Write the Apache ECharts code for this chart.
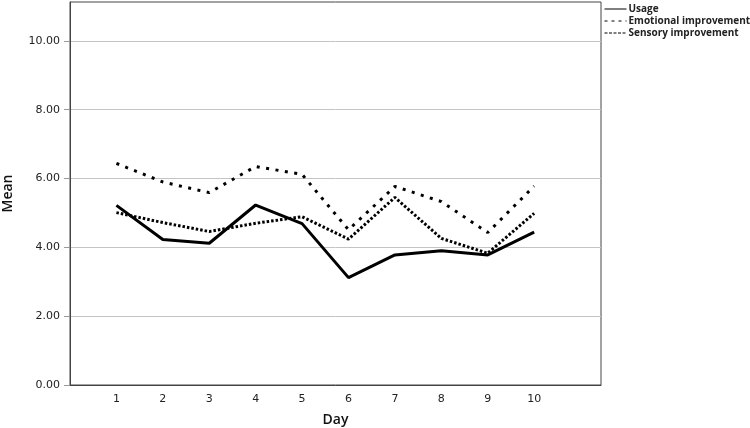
<!DOCTYPE html>
<html>
<head>
<meta charset="utf-8">
<script src="https://cdn.jsdelivr.net/npm/echarts@6/dist/echarts.min.js"></script>
<style>html,body{margin:0;padding:0;background:#fff;}#c{width:750px;height:428px;}</style>
</head>
<body>
<div id="c"></div>
<script>
var days = [1, 2, 3, 4, 5, 6, 7, 8, 9, 10];
var usage = [5.22, 4.23, 4.12, 5.23, 4.69, 3.12, 3.78, 3.90, 3.78, 4.44];
var emotional = [6.44, 5.90, 5.59, 6.35, 6.12, 4.51, 5.77, 5.33, 4.43, 5.78];
var sensory = [5.01, 4.72, 4.46, 4.70, 4.89, 4.24, 5.45, 4.26, 3.83, 4.99];
var seriesNames = ['Usage', 'Emotional improvement', 'Sensory improvement'];
var yTicks = [0, 2, 4, 6, 8, 10];

function pairs(vals) { return days.map(function (d, i) { return [d, vals[i]]; }); }

var hidden = { color: 'rgba(0,0,0,0)', borderWidth: 0, opacity: 0 };
var chart = echarts.init(document.getElementById('c'));
chart.setOption({
  animation: false,
  backgroundColor: '#fff',
  textStyle: { fontFamily: 'DejaVu Sans' },
  grid: { left: 70, right: 149, top: 2, bottom: 43, outerBoundsMode: 'none', containLabel: false, show: true, borderColor: '#444', borderWidth: 1, backgroundColor: 'transparent' },
  legend: {
    orient: 'vertical', left: 599, top: -1, itemGap: 2, itemWidth: 22, itemHeight: 10,
    textStyle: { fontSize: 10, color: '#222', fontWeight: 'bold', fontFamily: 'Open Sans', padding: [0, 0, 0, -3] },
    data: [
      { name: seriesNames[0], itemStyle: hidden, lineStyle: { type: 'solid', width: 1, color: '#000' } },
      { name: seriesNames[1], itemStyle: hidden, lineStyle: { type: [3, 4], width: 1, color: '#000' } },
      { name: seriesNames[2], itemStyle: hidden, lineStyle: { type: [3, 1.5], width: 1, color: '#000' } }
    ]
  },
  xAxis: {
    type: 'value', min: 0, max: 11.44, interval: 1,
    name: 'Day', nameLocation: 'middle', nameGap: 28,
    nameTextStyle: { fontSize: 14, color: '#111', fontFamily: 'Open Sans', fontWeight: 600 },
    axisLine: { show: true, lineStyle: { color: '#444' } },
    axisTick: { show: false },
    splitLine: { show: false },
    axisLabel: { fontSize: 11, color: '#222', margin: 9, formatter: function (v) { return (v >= 1 && v <= 10) ? String(v) : ''; } }
  },
  yAxis: {
    type: 'value', min: 0, max: 11.13, interval: 2,
    name: 'Mean', nameLocation: 'middle', nameGap: 55,
    nameTextStyle: { fontSize: 14, color: '#111', fontFamily: 'Open Sans', fontWeight: 600 },
    axisLine: { show: true, lineStyle: { color: '#444' } },
    axisTick: { show: true, length: 6, customValues: yTicks, lineStyle: { color: '#999' } },
    splitLine: { show: true, lineStyle: { color: '#c4c4c4', width: 1 } },
    axisLabel: { fontSize: 11, color: '#222', margin: 10, customValues: yTicks, formatter: function (v) { return v.toFixed(2); } }
  },
  series: [
    { name: seriesNames[0], type: 'line', data: pairs(usage), symbol: 'none', lineStyle: { color: '#000', width: 3, type: 'solid' }, itemStyle: { color: '#000' }, z: 3 },
    { name: seriesNames[1], type: 'line', data: pairs(emotional), symbol: 'none', lineStyle: { color: '#000', width: 3, type: [3, 6.5] }, itemStyle: { color: '#000' }, z: 2 },
    { name: seriesNames[2], type: 'line', data: pairs(sensory), symbol: 'none', lineStyle: { color: '#000', width: 3, type: [2.5, 2] }, itemStyle: { color: '#000' }, z: 2 }
  ]
});
</script>
</body>
</html>
